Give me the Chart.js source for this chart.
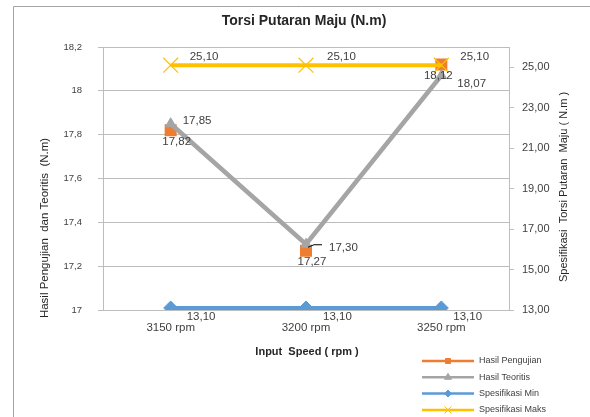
<!DOCTYPE html>
<html>
<head>
<meta charset="utf-8">
<script src="https://cdn.jsdelivr.net/npm/chart.js@4.4.1/dist/chart.umd.min.js"></script>
<style>
  html, body { margin: 0; padding: 0; background: #ffffff; }
  #wrap { width: 590px; height: 417px; }
</style>
</head>
<body>
<div id="wrap"><canvas id="c" width="590" height="417"></canvas></div>
<script>
// Torque measurements per input speed
const categories = ['3150 rpm', '3200 rpm', '3250 rpm'];
const hasilPengujian = [17.82, 17.27, 18.12];
const hasilTeoritis = [17.85, 17.30, 18.07];
const spesifikasiMin = [13.10, 13.10, 13.10];
const spesifikasiMaks = [25.10, 25.10, 25.10];
const leftTicks = [17, 17.2, 17.4, 17.6, 17.8, 18, 18.2];
const rightTicks = [13, 15, 17, 19, 21, 23, 25];

const FONT = "'Liberation Sans', Arial, sans-serif";
const TEXT = '#404040';
const GRID = '#bdbdbd';
const FRAME = '#a3a3a3';

const fmt1 = v => String(Number(v.toFixed(1))).replace('.', ',');
const fmt2 = v => v.toFixed(2).replace('.', ',');

// label placement per series: [dx, dy] from the point, text left-aligned unless 'center'
const labelStyle = [
  { align: 'center', shift: [[6, 12], [6, 11], [-3, 11]] },
  { align: 'left', shift: [[12, -3], [23, 4], [16, 8]], leader: [false, true, false] },
  { align: 'left', shift: [[16, 9], [17, 9], [12, 9]] },
  { align: 'left', shift: [[19, -8], [21, -8], [19, -8]] }
];

const decorPlugin = {
  id: 'decor',
  beforeDraw(chart) {
    const ctx = chart.ctx;
    ctx.save();
    ctx.fillStyle = '#ffffff';
    ctx.fillRect(0, 0, chart.width, chart.height);
    ctx.strokeStyle = FRAME;
    ctx.lineWidth = 1;
    ctx.beginPath();
    ctx.moveTo(590, 6.5);
    ctx.lineTo(13.5, 6.5);
    ctx.lineTo(13.5, 417);
    ctx.stroke();
    ctx.restore();
  },
  afterDatasetsDraw(chart) {
    const ctx = chart.ctx;
    ctx.save();
    ctx.font = '11.5px ' + FONT;
    ctx.fillStyle = TEXT;
    ctx.textBaseline = 'middle';
    chart.data.datasets.forEach((ds, di) => {
      const meta = chart.getDatasetMeta(di);
      const st = labelStyle[di];
      meta.data.forEach((pt, i) => {
        const [dx, dy] = st.shift[i];
        const txt = fmt2(ds.data[i]);
        ctx.textAlign = st.align;
        const tx = pt.x + dx, ty = pt.y + dy;
        ctx.fillText(txt, tx, ty);
        if (st.leader && st.leader[i]) {
          ctx.strokeStyle = '#000000';
          ctx.lineWidth = 1;
          ctx.beginPath();
          ctx.moveTo(pt.x + 2, pt.y + 3);
          ctx.lineTo(pt.x + 8, pt.y + 0.5);
          ctx.lineTo(tx - 7, pt.y + 0.5);
          ctx.stroke();
        }
      });
    });
    ctx.restore();
  },
  afterDraw(chart) {
    const ctx = chart.ctx;
    ctx.save();
    // chart title
    ctx.fillStyle = '#262626';
    ctx.textAlign = 'center';
    ctx.textBaseline = 'middle';
    ctx.font = 'bold 14px ' + FONT;
    ctx.fillText('Torsi Putaran Maju (N.m)', 304, 21);
    // x axis title
    ctx.font = 'bold 11px ' + FONT;
    ctx.fillText('Input  Speed ( rpm )', 307, 352);
    // left axis title
    ctx.font = '11.5px ' + FONT;
    ctx.fillStyle = '#262626';
    ctx.save();
    ctx.translate(45, 228);
    ctx.rotate(-Math.PI / 2);
    ctx.fillText('Hasil Pengujian  dan Teoritis  (N.m)', 0, 0);
    ctx.restore();
    // right axis title
    ctx.save();
    ctx.translate(564, 187);
    ctx.rotate(-Math.PI / 2);
    ctx.font = '11px ' + FONT;
    ctx.fillText('Spesifikasi  Torsi Putaran  Maju ( N.m )', 0, 0);
    ctx.restore();
    // legend
    const legendSizes = [3.5, 4, 3.5, 5];
    chart.data.datasets.forEach((ds, di) => {
      const y = 361 + di * 16.3;
      ctx.strokeStyle = ds.borderColor;
      ctx.lineWidth = 2.5;
      ctx.beginPath();
      ctx.moveTo(422, y);
      ctx.lineTo(474, y);
      ctx.stroke();
      ctx.fillStyle = ds.backgroundColor;
      ctx.strokeStyle = ds.borderColor;
      ctx.lineWidth = 1;
      Chart.helpers.drawPoint(ctx, { pointStyle: ds.pointStyle, radius: legendSizes[di], rotation: 0, borderWidth: 1 }, 448, y);
      ctx.fillStyle = TEXT;
      ctx.textAlign = 'left';
      ctx.font = '9px ' + FONT;
      ctx.fillText(ds.label, 479, y);
    });
    ctx.restore();
  }
};

new Chart(document.getElementById('c'), {
  type: 'line',
  data: {
    labels: categories,
    datasets: [
      {
        label: 'Hasil Pengujian', data: hasilPengujian, yAxisID: 'y',
        borderColor: '#ED7D31', backgroundColor: '#ED7D31', borderWidth: 3,
        showLine: false,
        pointStyle: 'rect', pointRadius: 8.5, pointBorderWidth: 0, order: 2
      },
      {
        label: 'Hasil Teoritis', data: hasilTeoritis, yAxisID: 'y',
        borderColor: '#A5A5A5', backgroundColor: '#A5A5A5', borderWidth: 4.5,
        pointStyle: 'triangle', pointRadius: 6, pointBorderWidth: 1, order: 1
      },
      {
        label: 'Spesifikasi Min', data: spesifikasiMin, yAxisID: 'y2',
        borderColor: '#5B9BD5', backgroundColor: '#5B9BD5', borderWidth: 4,
        pointStyle: 'rectRot', pointRadius: 7, pointBorderWidth: 1, order: 3
      },
      {
        label: 'Spesifikasi Maks', data: spesifikasiMaks, yAxisID: 'y2',
        borderColor: '#FFC000', backgroundColor: '#FFC000', borderWidth: 4,
        pointStyle: 'crossRot', pointRadius: 10.5, pointBorderWidth: 1.2, order: 0
      }
    ]
  },
  options: {
    responsive: false,
    animation: false,
    layout: { padding: { top: 47, left: 0, right: 0, bottom: 0 } },
    plugins: {
      legend: { display: false },
      title: { display: false },
      tooltip: { enabled: false }
    },
    scales: {
      x: {
        offset: true,
        grid: { display: false, drawTicks: false, tickLength: 0 },
        border: { display: true, color: GRID, width: 1 },
        ticks: { padding: 11, color: TEXT, font: { family: FONT, size: 11.5 } },
        afterFit(s) { s.height = 107; }
      },
      y: {
        position: 'left',
        min: 17, max: 18.2,
        afterBuildTicks(s) { s.ticks = leftTicks.map(v => ({ value: v })); },
        grid: { color: GRID, tickLength: 5, tickColor: GRID, lineWidth: 1 },
        border: { display: true, color: GRID },
        ticks: { padding: 16, color: TEXT, font: { family: FONT, size: 9.5 }, callback: v => fmt1(v) },
        afterFit(s) { s.width = 103; }
      },
      y2: {
        position: 'right',
        min: 13, max: 26,
        afterBuildTicks(s) { s.ticks = rightTicks.map(v => ({ value: v })); },
        grid: { drawOnChartArea: false, tickLength: 5, tickColor: GRID, color: GRID },
        border: { display: true, color: GRID },
        ticks: { padding: 8, color: TEXT, font: { family: FONT, size: 11 }, callback: v => fmt2(v) },
        afterFit(s) { s.width = 81; }
      }
    }
  },
  plugins: [decorPlugin]
});
</script>
</body>
</html>
